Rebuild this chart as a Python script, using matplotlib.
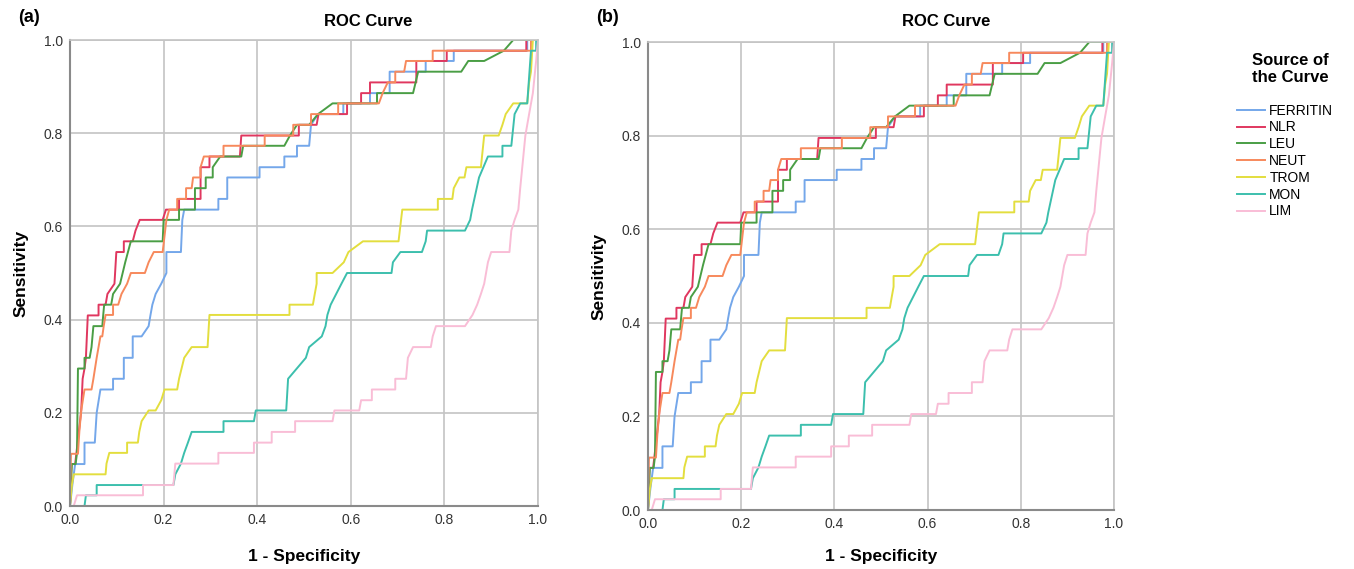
import matplotlib.pyplot as plt

plt.rcParams['font.family'] = ['Liberation Sans', 'DejaVu Sans']

# ROC curve vertices (1 - specificity, sensitivity)
ferritin_fpr = [0, 0.005, 0.011, 0.031, 0.031, 0.053, 0.057, 0.065, 0.092, 0.092, 0.115, 0.115, 0.134, 0.134,
                0.153, 0.168, 0.172, 0.176, 0.183, 0.195, 0.206, 0.206, 0.237, 0.24, 0.244, 0.317, 0.317, 0.336,
                0.336, 0.405, 0.405, 0.458, 0.458, 0.485, 0.485, 0.511, 0.515, 0.53, 0.584, 0.584, 0.641, 0.641,
                0.683, 0.683, 0.76, 0.76, 0.82, 0.82, 0.977, 0.977, 1.0]
ferritin_tpr = [0, 0.045, 0.09, 0.09, 0.136, 0.136, 0.2, 0.25, 0.25, 0.273, 0.273, 0.318, 0.318, 0.364,
                0.364, 0.386, 0.41, 0.432, 0.455, 0.477, 0.5, 0.545, 0.545, 0.614, 0.636, 0.636, 0.659, 0.659,
                0.705, 0.705, 0.727, 0.727, 0.75, 0.75, 0.773, 0.773, 0.818, 0.841, 0.841, 0.864, 0.864, 0.886,
                0.886, 0.932, 0.932, 0.955, 0.955, 0.977, 0.977, 1.0, 1.0]

nlr_fpr = [0, 0.003, 0.011, 0.019, 0.024, 0.027, 0.031, 0.034, 0.038, 0.061, 0.061, 0.076, 0.08, 0.095,
           0.099, 0.115, 0.115, 0.134, 0.14, 0.149, 0.198, 0.205, 0.233, 0.233, 0.279, 0.279, 0.298, 0.298,
           0.363, 0.366, 0.489, 0.489, 0.527, 0.531, 0.592, 0.592, 0.622, 0.622, 0.641, 0.641, 0.74, 0.74,
           0.805, 0.805, 0.975, 0.975, 1.0]
nlr_tpr = [0, 0.09, 0.09, 0.16, 0.205, 0.273, 0.295, 0.318, 0.409, 0.409, 0.432, 0.432, 0.455, 0.477,
           0.545, 0.545, 0.568, 0.568, 0.591, 0.614, 0.614, 0.636, 0.636, 0.659, 0.659, 0.727, 0.727, 0.75,
           0.75, 0.795, 0.795, 0.818, 0.818, 0.841, 0.841, 0.864, 0.864, 0.886, 0.886, 0.909, 0.909, 0.955,
           0.955, 0.977, 0.977, 1.0, 1.0]

leu_fpr = [0, 0.004, 0.012, 0.015, 0.017, 0.031, 0.031, 0.042, 0.046, 0.05, 0.069, 0.071, 0.073, 0.088,
           0.092, 0.107, 0.118, 0.13, 0.198, 0.2, 0.233, 0.233, 0.267, 0.267, 0.29, 0.29, 0.305, 0.305,
           0.321, 0.366, 0.37, 0.458, 0.47, 0.485, 0.511, 0.53, 0.561, 0.656, 0.656, 0.733, 0.744, 0.836,
           0.851, 0.885, 0.927, 0.947, 1.0]
leu_tpr = [0, 0.09, 0.09, 0.114, 0.295, 0.295, 0.318, 0.318, 0.341, 0.386, 0.386, 0.41, 0.432, 0.432,
           0.455, 0.477, 0.523, 0.568, 0.568, 0.614, 0.614, 0.636, 0.636, 0.682, 0.682, 0.705, 0.705, 0.727,
           0.75, 0.75, 0.773, 0.773, 0.795, 0.818, 0.818, 0.841, 0.864, 0.864, 0.886, 0.886, 0.932, 0.932,
           0.955, 0.955, 0.977, 1.0, 1.0]

neut_fpr = [0, 0.002, 0.017, 0.02, 0.024, 0.031, 0.046, 0.05, 0.057, 0.065, 0.069, 0.072, 0.076, 0.092,
            0.092, 0.103, 0.11, 0.122, 0.13, 0.16, 0.168, 0.179, 0.198, 0.206, 0.212, 0.229, 0.229, 0.248,
            0.248, 0.26, 0.263, 0.279, 0.279, 0.286, 0.328, 0.328, 0.416, 0.416, 0.477, 0.477, 0.515, 0.515,
            0.573, 0.573, 0.66, 0.668, 0.679, 0.695, 0.695, 0.714, 0.718, 0.775, 0.775, 0.985, 0.985, 1.0]
neut_tpr = [0, 0.112, 0.112, 0.16, 0.205, 0.25, 0.25, 0.273, 0.318, 0.364, 0.364, 0.386, 0.41, 0.41,
            0.432, 0.432, 0.455, 0.477, 0.5, 0.5, 0.523, 0.545, 0.545, 0.614, 0.636, 0.636, 0.659, 0.659,
            0.682, 0.682, 0.705, 0.705, 0.727, 0.75, 0.75, 0.773, 0.773, 0.795, 0.795, 0.818, 0.818, 0.841,
            0.841, 0.864, 0.864, 0.886, 0.909, 0.909, 0.932, 0.932, 0.955, 0.955, 0.977, 0.977, 1.0, 1.0]

trom_fpr = [0, 0.004, 0.008, 0.076, 0.078, 0.084, 0.122, 0.122, 0.145, 0.148, 0.153, 0.168, 0.183, 0.195,
            0.202, 0.229, 0.233, 0.244, 0.26, 0.294, 0.298, 0.469, 0.469, 0.519, 0.523, 0.527, 0.527, 0.561,
            0.585, 0.595, 0.626, 0.702, 0.71, 0.786, 0.786, 0.817, 0.82, 0.832, 0.843, 0.847, 0.878, 0.885,
            0.916, 0.924, 0.931, 0.947, 0.977, 0.981, 0.985, 0.989, 1.0]
trom_tpr = [0, 0.045, 0.068, 0.068, 0.091, 0.114, 0.114, 0.136, 0.136, 0.159, 0.182, 0.205, 0.205, 0.227,
            0.25, 0.25, 0.273, 0.318, 0.341, 0.341, 0.41, 0.41, 0.432, 0.432, 0.455, 0.477, 0.5, 0.5,
            0.523, 0.545, 0.568, 0.568, 0.636, 0.636, 0.659, 0.659, 0.682, 0.705, 0.705, 0.727, 0.727, 0.795,
            0.795, 0.818, 0.841, 0.864, 0.864, 0.909, 0.932, 1.0, 1.0]

mon_fpr = [0, 0.031, 0.034, 0.057, 0.057, 0.221, 0.225, 0.237, 0.244, 0.252, 0.26, 0.328, 0.328, 0.393,
           0.397, 0.462, 0.466, 0.504, 0.511, 0.538, 0.546, 0.55, 0.557, 0.58, 0.592, 0.687, 0.69, 0.706,
           0.752, 0.76, 0.763, 0.844, 0.855, 0.859, 0.874, 0.893, 0.924, 0.924, 0.943, 0.95, 0.962, 0.977,
           0.985, 0.996, 0.996, 1.0]
mon_tpr = [0, 0.0, 0.023, 0.023, 0.045, 0.045, 0.068, 0.091, 0.114, 0.136, 0.159, 0.159, 0.182, 0.182,
           0.205, 0.205, 0.273, 0.318, 0.341, 0.364, 0.386, 0.41, 0.432, 0.477, 0.5, 0.5, 0.523, 0.545,
           0.545, 0.568, 0.591, 0.591, 0.614, 0.636, 0.705, 0.75, 0.75, 0.773, 0.773, 0.841, 0.864, 0.864,
           0.977, 0.977, 1.0, 1.0]

lim_fpr = [0, 0.008, 0.015, 0.156, 0.156, 0.221, 0.225, 0.317, 0.317, 0.393, 0.393, 0.431, 0.431, 0.481,
           0.481, 0.561, 0.565, 0.618, 0.622, 0.645, 0.645, 0.695, 0.695, 0.718, 0.722, 0.733, 0.771, 0.775,
           0.782, 0.844, 0.86, 0.87, 0.878, 0.885, 0.893, 0.9, 0.939, 0.943, 0.95, 0.958, 0.962, 0.973,
           0.981, 0.989, 0.996, 1.0]
lim_tpr = [0, 0.0, 0.023, 0.023, 0.045, 0.045, 0.091, 0.091, 0.114, 0.114, 0.136, 0.136, 0.159, 0.159,
           0.182, 0.182, 0.205, 0.205, 0.227, 0.227, 0.25, 0.25, 0.273, 0.273, 0.318, 0.341, 0.341, 0.364,
           0.386, 0.386, 0.41, 0.432, 0.455, 0.477, 0.523, 0.545, 0.545, 0.591, 0.614, 0.636, 0.682, 0.795,
           0.841, 0.886, 0.955, 1.0]

names = ["FERRITIN", "NLR", "LEU", "NEUT", "TROM", "MON", "LIM"]
curves = [(ferritin_fpr, ferritin_tpr), (nlr_fpr, nlr_tpr), (leu_fpr, leu_tpr), (neut_fpr, neut_tpr),
          (trom_fpr, trom_tpr), (mon_fpr, mon_tpr), (lim_fpr, lim_tpr)]
colors = ["#74a7ea", "#e0375f", "#4a9e45", "#f7895c", "#e3de3e", "#3cbfad", "#f9bdd6"]
ticks = [0.0, 0.2, 0.4, 0.6, 0.8, 1.0]

fig = plt.figure(figsize=(13.54, 5.69), dpi=100)
W, H = 1354, 569

# axes boxes in pixels: left, right, top(y=1), bottom(y=0)
boxes = [(70, 538, 40, 506), (648, 1114, 42, 510)]
labels = ["(a)", "(b)"]

for (l, r, t, b), lab in zip(boxes, labels):
    ax = fig.add_axes([l / W, 1 - b / H, (r - l) / W, (b - t) / H])
    for (fx, ty), c, n in zip(curves, colors, names):
        ax.plot(fx, ty, color=c, lw=1.4, label=n)
    ax.set_xlim(0, 1)
    ax.set_ylim(0, 1)
    ax.set_xticks(ticks)
    ax.set_yticks(ticks)
    ax.set_xticklabels([f"{v:.1f}" for v in ticks])
    ax.set_yticklabels([f"{v:.1f}" for v in ticks])
    ax.grid(True, color="#c4c4c4", lw=1.2)
    ax.set_axisbelow(True)
    ax.tick_params(length=0, labelsize=10, labelcolor="#333333", pad=5)
    for s in ["top", "right"]:
        ax.spines[s].set_color("#c4c4c4")
        ax.spines[s].set_linewidth(1.2)
    for s in ["left", "bottom"]:
        ax.spines[s].set_color("#8a8a8a")
        ax.spines[s].set_linewidth(1.5)
    ax.set_ylabel("Sensitivity", fontsize=12.5, fontweight="bold", labelpad=11)
    fig.text((l - 52) / W, 1 - 18 / H, lab, fontsize=13, fontweight="bold", va="center", ha="left")
    fig.text((l + 298) / W, 1 - 22 / H, "ROC Curve", fontsize=12, fontweight="bold", va="center", ha="center")
    fig.text((l + r) / 2 / W, 1 - 557 / H, "1 - Specificity", fontsize=12.5, fontweight="bold",
             va="center", ha="center")

fig.text(1290 / W, 1 - 69 / H, "Source of\nthe Curve", fontsize=12, fontweight="bold",
         ha="center", va="center", multialignment="center", linespacing=1.15)

handles, leg_labels = ax.get_legend_handles_labels()
fig.legend(handles, leg_labels, loc="upper left", bbox_to_anchor=(1227 / W, 1 - 94 / H),
           frameon=False, fontsize=10, handlelength=2.0, handletextpad=0.35, labelspacing=0.2,
           borderpad=0.2)

fig.savefig("out.png", dpi=100)
